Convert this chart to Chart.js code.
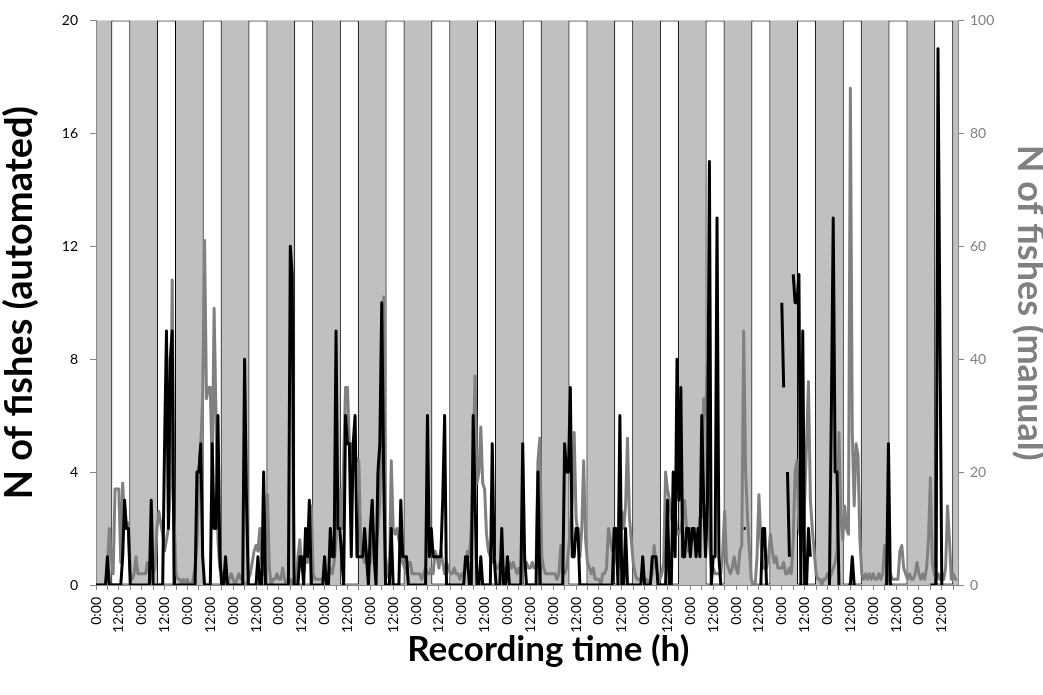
<!DOCTYPE html>
<html>
<head>
<meta charset="utf-8">
<title>N of fishes</title>
<script src="https://cdn.jsdelivr.net/npm/chart.js@4"></script>
<style>
  html, body { margin: 0; padding: 0; background: #fff; }
</style>
</head>
<body>
<canvas id="plot" width="1043" height="695"></canvas>
<script>
// hourly counts, one row per recording day (hours 0..23), null = no record
const automated = [
  [0,0,0,0,0,0,1,0,0,0,0,0,0,0,1,3,2,2,0,0,0,0,0,0],
  [0,0,0,0,0,3,0,0,0,0,0,0,5,9,2,8,9,0,0,0,0,0,0,0],
  [0,0,0,0,0,4,4,5,1,0,0,0,0,5,2,2,6,1,0,0,1,0,0,0],
  [0,0,0,0,0,0,8,3,0,0,0,0,0,1,0,0,4,0,0,0,0,0,0,0],
  [0,0,0,0,0,0,12,11,0,0,0,1,1,0,2,1,3,0,0,0,0,0,0,0],
  [1,0,0,2,1,1,9,2,2,1,0,6,5,5,1,5,6,1,1,1,1,2,1,0],
  [2,3,1,0,4,5,10,4,0,0,0,2,0,0,0,0,3,1,1,1,0,0,0,0],
  [0,0,0,0,0,0,6,1,2,1,1,1,1,1,3,6,0,0,0,0,0,0,0,0],
  [0,0,1,1,0,0,6,3,0,0,1,0,0,0,0,0,5,1,0,0,0,2,0,0],
  [1,0,0,0,0,0,0,0,5,1,0,0,0,0,0,0,4,0,0,0,0,0,0,0],
  [0,0,0,0,0,0,5,4,4,7,1,1,2,2,0,0,0,0,0,0,0,0,0,0],
  [0,0,0,0,0,0,0,0,2,2,0,6,0,0,2,0,0,0,0,0,0,0,0,1],
  [0,0,0,0,1,1,1,0,0,0,0,0,3,0,0,4,1,8,3,7,1,1,2,2],
  [1,2,2,1,2,1,6,3,1,3,15,0,1,1,13,1,0,null,null,null,null,null,null,null],
  [null,null,null,null,2,2,null,null,null,null,null,null,null,0,2,2,0,null,null,null,null,null,null,null],
  [10,7,null,4,1,null,11,10,10,11,0,9,0,0,2,1,null,null,null,null,null,null,null,null],
  [null,0,6,13,4,4,0,null,null,null,null,0,0,1,0,null,null,null,null,null,null,null,null,null],
  [null,null,null,null,null,null,0,0,5,0,0,null,null,null,null,null,null,null,null,null,null,null,null,null],
  [null,null,null,null,null,null,0,0,0,0,19,9,0,null,null,null,null,null,null,null,null]
];

const manual = [
  [0,0,0,0,0,0,3,10,5,2,17,17,17,4,18,11,11,11,2,1,2,5,2,2],
  [2,2,2,4,2,1,2,3,10,13,11,9,6,8,10,17,54,12,2,1,1,0,1,0],
  [1,0,0,1,3,7,20,25,33,61,33,35,35,20,49,30,8,3,2,1,1,0,1,2],
  [1,0,1,2,1,1,0,0,1,2,4,6,7,6,10,4,2,8,16,3,0,1,1,2],
  [1,1,3,1,0,1,1,0,1,0,5,8,3,2,5,4,10,14,2,1,1,1,1,1],
  [2,2,1,3,2,4,8,14,17,10,22,35,35,25,25,22,23,22,22,6,5,4,6,3],
  [4,9,9,6,10,15,35,51,5,2,1,22,10,9,10,8,6,4,3,2,4,4,2,2],
  [2,2,2,1,2,3,2,2,3,2,6,5,3,6,4,2,4,3,2,2,3,2,2,1],
  [2,2,3,6,5,10,22,37,18,20,28,18,17,9,6,5,4,5,3,3,4,3,2,3],
  [3,4,3,4,3,2,3,2,2,4,4,3,3,4,3,3,22,26,5,3,2,2,2,2],
  [2,2,1,2,7,2,2,3,6,10,15,27,12,9,5,10,22,8,4,3,2,3,1,1],
  [1,0,2,2,3,10,8,6,7,5,3,5,13,10,14,26,12,8,4,2,1,1,1,1],
  [1,1,0,1,2,7,3,2,1,2,4,20,17,15,12,10,13,9,9,10,12,15,10,6],
  [10,8,9,7,8,12,12,33,30,39,8,3,3,2,2,2,2,6,13,4,3,2,3,5],
  [3,2,6,7,45,20,12,6,1,0,0,5,16,8,3,3,3,5,9,6,4,5,3,3],
  [3,4,2,2,3,2,8,20,22,10,8,6,15,25,36,15,10,6,2,1,1,0,1,1],
  [2,1,2,3,4,6,27,12,8,14,10,9,88,27,14,25,23,8,2,1,2,1,2,1],
  [2,1,1,2,1,2,7,3,1,2,1,1,1,1,6,7,3,2,1,2,1,1,2,4],
  [2,1,2,1,3,8,19,4,2,1,2,1,2,1,3,14,8,1,2,1,1]
];

const clockLabels = ['0:00', '12:00'];   // tick text every 12 h
const lightsOn = 8, lightsOff = 18;      // light phase (white bars)
const autoMax = 20, manualMax = 100;
const lastHour = 452.5;

function toPoints(rows) {
  const pts = [];
  rows.forEach((row, d) => row.forEach((v, h) => pts.push({x: d * 24 + h, y: v})));
  return pts;
}

const lightBars = automated.map((row, d) => ({x: d * 24 + (lightsOn + lightsOff) / 2, y: autoMax}));

const plotBg = {
  id: 'plotBg',
  beforeDraw(chart) {
    const {ctx, chartArea: a} = chart;
    ctx.save();
    ctx.fillStyle = '#c0c0c0';
    ctx.fillRect(a.left, a.top, a.right - a.left, a.bottom - a.top);
    ctx.restore();
  }
};

Chart.defaults.font.family = 'Lato';
const axisGrey = '#868686';

const ctx = document.getElementById('plot').getContext('2d');
const myChart = new Chart(ctx, {
  type: 'line',
  data: {
    datasets: [
      {
        label: 'automated',
        data: toPoints(automated),
        xAxisID: 'x', yAxisID: 'y',
        borderColor: '#000', borderWidth: 3,
        borderJoinStyle: 'round',
        pointRadius: 0, tension: 0, spanGaps: false,
        order: 1
      },
      {
        label: 'manual',
        data: toPoints(manual),
        xAxisID: 'x', yAxisID: 'y1',
        borderColor: '#808080', borderWidth: 3,
        borderJoinStyle: 'round',
        pointRadius: 0, tension: 0,
        order: 2
      },
      {
        type: 'bar',
        label: 'light',
        data: lightBars,
        xAxisID: 'xLight', yAxisID: 'y',
        backgroundColor: '#fff',
        borderColor: '#000', borderWidth: 1, borderSkipped: false,
        grouped: false,
        categoryPercentage: 1,
        barPercentage: (lightsOff - lightsOn) / 24,
        order: 3
      }
    ]
  },
  options: {
    responsive: false,
    devicePixelRatio: 1,
    animation: false,
    layout: { padding: { top: 20, left: 0, right: 0, bottom: 0 } },
    plugins: { legend: { display: false }, tooltip: { enabled: false } },
    scales: {
      x: {
        type: 'linear', position: 'bottom',
        min: 0, max: lastHour, offset: false,
        grid: { drawOnChartArea: false, drawTicks: true, tickLength: 5, color: axisGrey },
        border: { color: axisGrey, width: 1 },
        ticks: {
          stepSize: 6, autoSkip: false, includeBounds: false,
          minRotation: 90, maxRotation: 90, padding: 7,
          color: '#000', font: { size: 14 },
          callback: v => v % 24 === 0 ? clockLabels[0] : (v % 24 === 12 ? clockLabels[1] : '')
        },
        title: {
          display: true, text: '     Recording time (h)',
          color: '#000', font: { size: 35, weight: 'bold', lineHeight: 1 },
          padding: { top: 0, bottom: 28 }
        },
        afterFit: s => { s.height = 110; }
      },
      xLight: {
        type: 'linear', display: false,
        min: 0, max: lastHour, offset: false,
        ticks: { stepSize: 24, includeBounds: false }
      },
      y: {
        position: 'left', min: 0, max: autoMax,
        grid: { drawOnChartArea: false, tickLength: 6, color: axisGrey },
        border: { color: axisGrey, width: 1 },
        ticks: { stepSize: 4, padding: 12, color: '#000', font: { size: 14 } },
        title: {
          display: true, text: 'N of fishes (automated)',
          color: '#000', font: { size: 38, weight: 'bold', lineHeight: 1 },
          padding: { top: 1, bottom: 0 }
        },
        afterFit: s => { s.width = 96; }
      },
      y1: {
        position: 'right', min: 0, max: manualMax,
        grid: { drawOnChartArea: false, tickLength: 6, color: axisGrey },
        border: { color: axisGrey, width: 1 },
        ticks: { stepSize: 20, padding: 6, color: '#808080', font: { size: 14 } },
        title: {
          display: true, text: 'N of fishes (manual)',
          color: '#808080', font: { size: 36, weight: 'bold', lineHeight: 0.75 },
          padding: { top: 0, bottom: 0 }
        },
        afterFit: s => { s.width = 85; }
      }
    }
  },
  plugins: [plotBg]
});
</script>
</body>
</html>
